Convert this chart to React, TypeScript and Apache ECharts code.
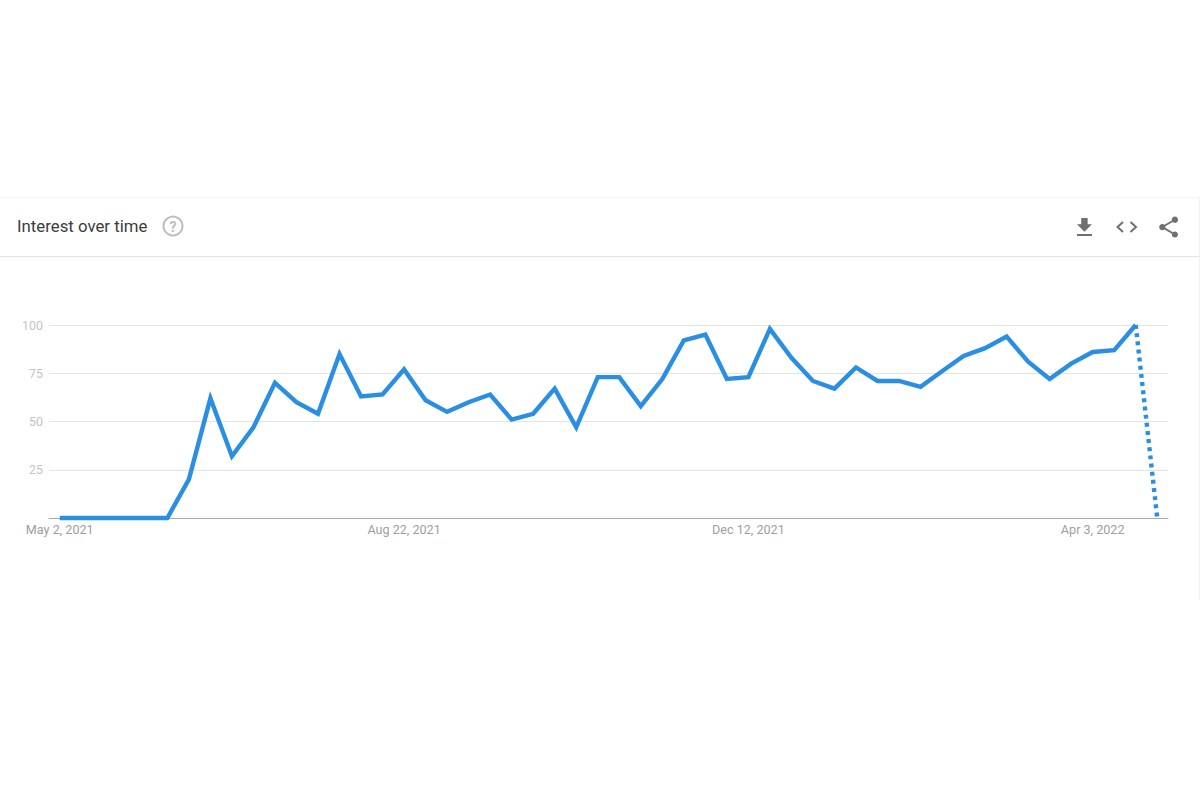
import React, { useEffect, useRef } from "react";
import * as echarts from "echarts";

const weeks = [
  "May 2, 2021","May 9, 2021","May 16, 2021","May 23, 2021","May 30, 2021","Jun 6, 2021","Jun 13, 2021","Jun 20, 2021","Jun 27, 2021",
  "Jul 4, 2021","Jul 11, 2021","Jul 18, 2021","Jul 25, 2021","Aug 1, 2021","Aug 8, 2021","Aug 15, 2021","Aug 22, 2021","Aug 29, 2021",
  "Sep 5, 2021","Sep 12, 2021","Sep 19, 2021","Sep 26, 2021","Oct 3, 2021","Oct 10, 2021","Oct 17, 2021","Oct 24, 2021","Oct 31, 2021",
  "Nov 7, 2021","Nov 14, 2021","Nov 21, 2021","Nov 28, 2021","Dec 5, 2021","Dec 12, 2021","Dec 19, 2021","Dec 26, 2021",
  "Jan 2, 2022","Jan 9, 2022","Jan 16, 2022","Jan 23, 2022","Jan 30, 2022","Feb 6, 2022","Feb 13, 2022","Feb 20, 2022","Feb 27, 2022",
  "Mar 6, 2022","Mar 13, 2022","Mar 20, 2022","Mar 27, 2022","Apr 3, 2022","Apr 10, 2022","Apr 17, 2022","Apr 24, 2022",
];
const interest = [
  0,0,0,0,0,0,20,62,32,47,70,60,54,85,63,64,77,61,55,60,64,51,54,67,47,73,73,58,72,92,95,72,73,98,83,71,67,78,71,71,68,76,84,88,94,81,72,80,86,87,100,
];
const partialWeek = [100, 0];
const yTicks = [0, 25, 50, 75, 100];

const BLUE = "#2a8fe2";
const DOWNLOAD = "M19 9h-4V3H9v6H5l7 7 7-7zM5 18v2h14v-2H5z";
const SHARE = "M18 16.08c-.76 0-1.44.3-1.96.77L8.91 12.7c.05-.23.09-.46.09-.7s-.04-.47-.09-.7l7.05-4.11c.54.5 1.25.81 2.04.81 1.66 0 3-1.34 3-3s-1.34-3-3-3-3 1.34-3 3c0 .24.04.47.09.7L8.04 9.81C7.5 9.31 6.79 9 6 9c-1.66 0-3 1.34-3 3s1.34 3 3 3c.79 0 1.5-.31 2.04-.81l7.12 4.16c-.05.21-.08.43-.08.65 0 1.61 1.31 2.92 2.92 2.92 1.61 0 2.92-1.31 2.92-2.92s-1.31-2.92-2.92-2.92z";

echarts.graphic.registerShape("gtDownload", echarts.graphic.extendPath(DOWNLOAD as any, {}) as any);
echarts.graphic.registerShape("gtShare", echarts.graphic.extendPath(SHARE as any, {}) as any);

export default function App() {
  const ref = useRef<HTMLDivElement>(null);
  useEffect(() => {
    const chart = echarts.init(ref.current!, undefined, { renderer: "svg" });
    const hline = (y: number, color: string) => ({
      type: "line", shape: { x1: 0, y1: y, x2: 1200, y2: y }, style: { stroke: color, lineWidth: 1 }, silent: true,
    });
    chart.setOption({
      animation: false,
      backgroundColor: "#ffffff",
      textStyle: { fontFamily: "Roboto" },
      grid: { left: 49, right: 32, top: 325, height: 193 },
      xAxis: {
        type: "category",
        data: weeks,
        boundaryGap: true,
        axisTick: { show: false },
        axisLine: { lineStyle: { color: "#aaaaaa", width: 1 } },
        axisLabel: { interval: 15, color: "#9e9e9e", fontSize: 12.6, fontFamily: "Roboto", margin: 5 },
        splitLine: { show: false },
      },
      yAxis: {
        type: "value",
        min: yTicks[0],
        max: yTicks[yTicks.length - 1],
        interval: yTicks[1] - yTicks[0],
        axisLine: { show: false },
        axisTick: { show: false },
        axisLabel: {
          color: "#c4c4c4", fontSize: 12.4, fontFamily: "Roboto", margin: 6,
          formatter: (v: number) => (v === 0 ? "" : String(v)),
        },
        splitLine: { lineStyle: { color: "#e4e4e4", width: 1 } },
      },
      series: [
        {
          type: "line",
          data: interest,
          showSymbol: false,
          smooth: false,
          clip: false,
          lineStyle: { color: BLUE, width: 4.4, join: "miter" },
          z: 3,
        },
        {
          type: "line",
          data: [...interest.slice(0, -1).map(() => null), ...partialWeek],
          showSymbol: false,
          clip: false,
          connectNulls: false,
          lineStyle: { color: BLUE, width: 4.4, type: [4, 4.2] },
          z: 3,
        },
      ],
      graphic: [
        hline(197.5, "#f5f5f5"),
        hline(256.5, "#e4e4e4"),
        { type: "line", shape: { x1: 1199.5, y1: 197, x2: 1199.5, y2: 600 }, style: { stroke: "#f2f2f2", lineWidth: 1 }, silent: true },
        {
          type: "text", x: 17, y: 226,
          style: { text: "Interest over time", fill: "#3c3c3c", font: "16.8px Roboto", verticalAlign: "middle" },
        },
        { type: "circle", shape: { cx: 173, cy: 226, r: 9.5 }, style: { fill: "none", stroke: "#bdbdbd", lineWidth: 2 } },
        {
          type: "text", x: 173, y: 226.5,
          style: { text: "?", fill: "#bdbdbd", font: "bold 14px Roboto", align: "center", verticalAlign: "middle" },
        },
        { type: "gtDownload", x: 1071.6, y: 214.8, scaleX: 1.07, scaleY: 1.06, style: { fill: "#707070" } },
        {
          type: "polyline",
          shape: { points: [[1123, 222], [1117.5, 227], [1123, 232]] },
          style: { fill: "none", stroke: "#707070", lineWidth: 2 },
        },
        {
          type: "polyline",
          shape: { points: [[1130.5, 222], [1136, 227], [1130.5, 232]] },
          style: { fill: "none", stroke: "#707070", lineWidth: 2 },
        },
        { type: "gtShare", x: 1156, y: 214.5, scaleX: 1.05, scaleY: 1.05, style: { fill: "#707070" } },
      ],
    });
    return () => chart.dispose();
  }, []);
  return <div ref={ref} style={{ position: "absolute", left: 0, top: 0, width: 1200, height: 800 }} />;
}
